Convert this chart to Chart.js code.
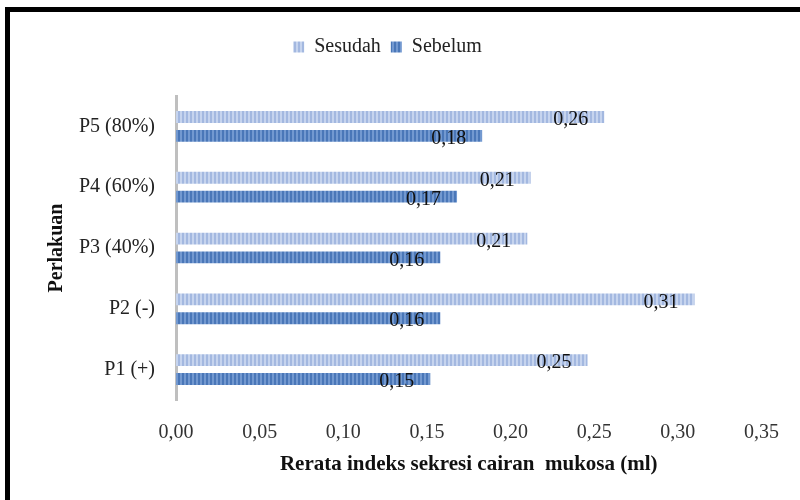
<!DOCTYPE html>
<html lang="id">
<head>
  <meta charset="UTF-8" />
  <title>Rerata indeks sekresi cairan mukosa</title>
  <script src="https://cdn.jsdelivr.net/npm/chart.js"></script>
  <style>
    body { margin: 0; background: #fff; }
    #box {
      position: absolute; left: 5px; top: 7px;
      width: 795px; height: 493px;
      border-top: 5px solid #000; border-left: 5px solid #000;
      box-sizing: border-box;
    }
  </style>
</head>
<body>
  <div id="box"><canvas id="grafik"></canvas></div>

  <script>
    // data
    const perlakuan = ['P1 (+)', 'P2 (-)', 'P3 (40%)', 'P4 (60%)', 'P5 (80%)'];
    const sesudah = [0.246, 0.31, 0.21, 0.212, 0.256];
    const sebelum = [0.152, 0.158, 0.158, 0.168, 0.183];
    const xTicks = [0, 0.05, 0.10, 0.15, 0.20, 0.25, 0.30, 0.35];

    const serif = '"Liberation Serif", "Times New Roman", serif';

    // garis-garis vertikal seperti di Excel
    function pola(gelap, terang) {
      const c = document.createElement('canvas');
      c.width = 4; c.height = 1;
      const g = c.getContext('2d');
      g.fillStyle = gelap; g.fillRect(0, 0, 2, 1);
      g.fillStyle = terang; g.fillRect(2, 0, 2, 1);
      return g.createPattern(c, 'repeat');
    }

    const labelNilai = {
      id: 'labelNilai',
      afterDatasetsDraw(chart) {
        const ctx = chart.ctx;
        ctx.save();
        ctx.font = '20px ' + serif;
        ctx.fillStyle = '#111';
        ctx.textAlign = 'right';
        ctx.textBaseline = 'middle';
        chart.data.datasets.forEach((ds, i) => {
          chart.getDatasetMeta(i).data.forEach((bar, j) => {
            const teks = ds.data[j].toFixed(2).replace('.', ',');
            ctx.fillText(teks, bar.x - 16, bar.y + 3);
          });
        });
        ctx.restore();
      }
    };

    const jarakLegend = {
      id: 'jarakLegend',
      beforeInit(chart) {
        const fit = chart.legend.fit;
        chart.legend.fit = function () {
          fit.bind(chart.legend)();
          this.height += 29;
        };
      }
    };

    new Chart(document.getElementById('grafik'), {
      type: 'bar',
      data: {
        labels: perlakuan,
        datasets: [
          { label: 'Sesudah', data: sesudah, backgroundColor: pola('#a3b8e0', '#c6d4ee') },
          { label: 'Sebelum', data: sebelum, backgroundColor: pola('#4a77b8', '#7399d0') }
        ]
      },
      options: {
        indexAxis: 'y',
        responsive: true,
        maintainAspectRatio: false,
        animation: false,
        categoryPercentage: 0.62,
        barPercentage: 0.63,
        layout: { padding: { top: 15, right: 35, bottom: 20, left: 0 } },
        plugins: {
          legend: {
            labels: {
              font: { family: serif, size: 20 },
              color: '#222',
              boxWidth: 11,
              boxHeight: 11,
              padding: 10
            }
          },
          tooltip: { enabled: false }
        },
        scales: {
          x: {
            min: 0,
            max: 0.35,
            afterBuildTicks(scale) { scale.ticks = xTicks.map(v => ({ value: v })); },
            afterFit(scale) { scale.height = 80; },
            grid: { display: false, drawTicks: false },
            border: { display: false },
            ticks: {
              font: { family: serif, size: 20 },
              color: '#333',
              padding: 21,
              callback: v => v.toFixed(2).replace('.', ',')
            },
            title: {
              display: true,
              text: 'Rerata indeks sekresi cairan  mukosa (ml)',
              font: { family: serif, size: 21, weight: 'bold' },
              color: '#111',
              padding: { top: 10, bottom: 3 }
            }
          },
          y: {
            reverse: true,
            grid: { display: false, drawTicks: false },
            border: { display: true, color: '#bfbfbf', width: 3 },
            afterFit(scale) { scale.width = 166; },
            ticks: {
              font: { family: serif, size: 20 },
              color: '#222',
              padding: 21
            },
            title: {
              display: true,
              text: 'Perlakuan',
              font: { family: serif, size: 20, weight: 'bold' },
              color: '#111',
              padding: { top: 35, bottom: 0 }
            }
          }
        }
      },
      plugins: [labelNilai, jarakLegend]
    });
  </script>
</body>
</html>
